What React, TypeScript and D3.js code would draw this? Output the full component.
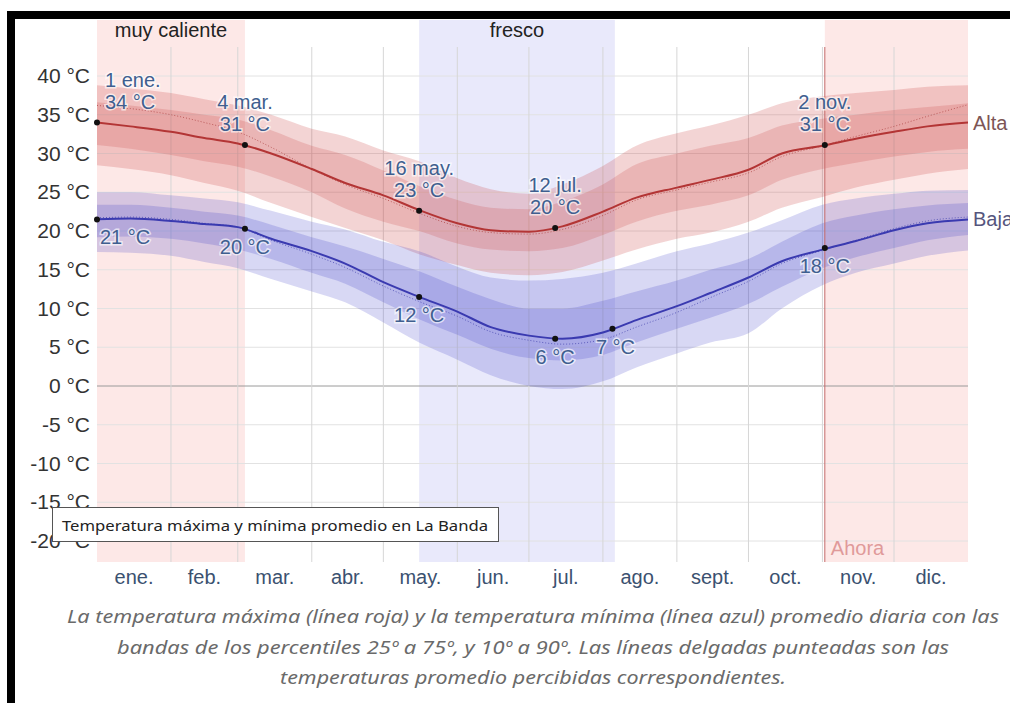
import React from "react";
import * as d3 from "d3";

// sample days (day of year) for the daily series
const days = [0, 14, 31, 45, 59, 73, 90, 104, 120, 135, 151, 165, 181, 195, 212, 226, 243, 257, 273, 287, 304, 318, 334, 348, 365];

// high temperature (°C)
const hiAvg = [34.0, 33.5, 32.8, 32.0, 31.3, 30.0, 28.0, 26.2, 24.6, 22.7, 21.0, 20.1, 19.9, 20.6, 22.5, 24.3, 25.6, 26.6, 27.9, 30.0, 31.0, 31.9, 32.8, 33.5, 34.0];
const hiP25 = [31.1, 30.6, 29.8, 29.0, 28.3, 27.0, 25.0, 22.9, 21.2, 20.0, 18.4, 17.6, 17.4, 17.8, 19.5, 21.2, 22.6, 23.4, 24.6, 26.6, 28.0, 28.8, 29.6, 30.2, 30.6];
const hiP75 = [36.6, 36.2, 35.6, 35.0, 34.4, 33.0, 31.0, 29.8, 27.8, 25.8, 24.0, 23.0, 22.8, 23.8, 26.0, 28.6, 30.0, 31.0, 32.0, 33.6, 34.5, 35.0, 35.6, 36.0, 36.5];
const hiP10 = [28.5, 28.0, 27.2, 26.2, 25.2, 23.6, 21.8, 20.4, 18.8, 17.0, 15.6, 14.6, 14.3, 14.7, 16.2, 17.6, 19.0, 19.8, 21.2, 23.0, 24.4, 25.6, 26.6, 27.4, 28.0];
const hiP90 = [38.8, 38.4, 37.8, 37.0, 36.2, 35.0, 33.2, 32.2, 30.4, 29.0, 26.8, 25.4, 24.8, 26.0, 28.4, 31.0, 32.6, 33.6, 35.0, 36.5, 37.4, 37.8, 38.2, 38.6, 38.8];
const hiFeels = [36.2, 35.8, 35.0, 34.0, 32.8, 30.8, 28.0, 26.0, 24.2, 22.3, 20.6, 19.8, 19.6, 20.2, 22.0, 24.0, 25.3, 26.3, 27.5, 29.6, 31.0, 32.2, 33.5, 34.8, 36.3];

// low temperature (°C)
const loAvg = [21.5, 21.6, 21.3, 20.9, 20.5, 19.0, 17.4, 15.8, 13.4, 11.5, 9.6, 7.6, 6.5, 6.1, 6.9, 8.5, 10.3, 12.0, 14.0, 16.1, 17.6, 18.7, 20.1, 21.0, 21.5];
const loP25 = [19.2, 19.3, 19.0, 18.4, 17.6, 16.4, 14.6, 13.2, 10.8, 8.6, 6.6, 4.8, 3.6, 3.3, 4.0, 5.6, 7.4, 8.8, 10.6, 12.8, 15.2, 16.6, 17.8, 18.8, 19.5];
const loP75 = [23.4, 23.4, 23.0, 22.5, 22.0, 20.8, 19.2, 18.0, 16.4, 14.8, 12.8, 11.2, 10.0, 10.0, 11.0, 12.2, 13.6, 15.0, 16.4, 18.6, 21.0, 22.0, 22.8, 23.3, 23.6];
const loP10 = [17.3, 17.2, 16.8, 16.0, 15.2, 13.8, 12.2, 10.8, 8.2, 5.6, 3.4, 1.4, 0.0, -0.4, 0.6, 2.4, 4.2, 5.6, 6.8, 10.0, 13.0, 14.6, 15.8, 16.8, 17.5];
const loP90 = [25.0, 25.0, 24.6, 24.2, 23.7, 22.6, 21.2, 20.2, 18.6, 17.4, 15.4, 14.0, 13.6, 13.8, 14.6, 15.8, 17.4, 18.4, 19.8, 21.4, 23.4, 24.2, 24.8, 25.2, 25.3];
const loFeels = [21.7, 21.8, 21.5, 21.0, 20.5, 18.8, 17.0, 15.3, 12.9, 10.9, 9.0, 7.0, 5.9, 5.4, 6.0, 7.6, 9.5, 11.4, 13.5, 15.8, 17.5, 18.8, 20.3, 21.3, 21.8];

const monthNames = ["ene.", "feb.", "mar.", "abr.", "may.", "jun.", "jul.", "ago.", "sept.", "oct.", "nov.", "dic."];
const monthStarts = [0, 31, 59, 90, 120, 151, 181, 212, 243, 273, 304, 334, 365];
const yTicks = [40, 35, 30, 25, 20, 15, 10, 5, 0, -5, -10, -15, -20];

// annotated points
const hiNoteDays = [0, 62, 135, 192, 305];
const hiNoteDates = ["1 ene.", "4 mar.", "16 may.", "12 jul.", "2 nov."];
const hiNoteValues = [34.0, 31.1, 22.6, 20.4, 31.1];
const hiNoteLabels = ["34 °C", "31 °C", "23 °C", "20 °C", "31 °C"];
const loNoteDays = [0, 62, 135, 192, 216, 305];
const loNoteValues = [21.5, 20.3, 11.5, 6.1, 7.4, 17.8];
const loNoteLabels = ["21 °C", "20 °C", "12 °C", "6 °C", "7 °C", "18 °C"];

// seasons
const hotSpans = [[0, 62], [305, 365]];
const coolSpans = [[135, 217]];
const nowDay = 305;

const W = 1010;
const H = 703;
const plotTop = 20;
const gridTop = 47;
const plotBottom = 562;
const font = "'Liberation Sans', Arial, sans-serif";

const x = d3.scaleLinear().domain([0, 365]).range([97, 968]);
const y = d3.scaleLinear().domain([-20, 40]).range([541, 76]);

const band = (lo: number[], hi: number[]) =>
  d3
    .area<number>()
    .x((_, i) => x(days[i]))
    .y0((_, i) => y(lo[i]))
    .y1((_, i) => y(hi[i]))
    .curve(d3.curveMonotoneX)(days) as string;

const line = (vals: number[]) =>
  d3
    .line<number>()
    .x((_, i) => x(days[i]))
    .y((_, i) => y(vals[i]))
    .curve(d3.curveMonotoneX)(days) as string;

const noteColor = "#3f5f8f";
const halo = { stroke: "rgba(255,255,255,0.65)", strokeWidth: 3, paintOrder: "stroke" as const };

export default function App() {
  return (
    <svg width={W} height={H} style={{ position: "absolute", left: 0, top: 0, background: "#fff" }}>
      {/* season shading */}
      {hotSpans.map(([a, b], i) => (
        <rect key={"h" + i} x={x(a)} y={plotTop} width={x(b) - x(a)} height={plotBottom - plotTop} fill="#fde8e7" />
      ))}
      {coolSpans.map(([a, b], i) => (
        <rect key={"c" + i} x={x(a)} y={plotTop} width={x(b) - x(a)} height={plotBottom - plotTop} fill="#e9e9fb" />
      ))}
      <text x={(x(hotSpans[0][0]) + x(hotSpans[0][1])) / 2} y={37} textAnchor="middle" fontFamily={font} fontSize={20} fill="#222">
        muy caliente
      </text>
      <text x={(x(coolSpans[0][0]) + x(coolSpans[0][1])) / 2} y={37} textAnchor="middle" fontFamily={font} fontSize={20} fill="#222">
        fresco
      </text>

      {/* grid */}
      {yTicks.map((t) => (
        <line key={t} x1={x(0)} x2={x(365)} y1={y(t)} y2={y(t)} stroke={t === 0 ? "#9a9a9a" : "#e2e2e2"} strokeWidth={1} />
      ))}
      {monthStarts.slice(1, -1).map((d) => (
        <line key={d} x1={x(d)} x2={x(d)} y1={gridTop} y2={plotBottom} stroke="#d6d6d6" strokeWidth={1} />
      ))}

      {/* bands */}
      <path d={band(hiP10, hiP90)} fill="rgba(200,60,60,0.22)" />
      <path d={band(hiP25, hiP75)} fill="rgba(200,60,60,0.2)" />
      <path d={band(loP10, loP90)} fill="rgba(60,60,200,0.2)" />
      <path d={band(loP25, loP75)} fill="rgba(60,60,200,0.21)" />

      {/* feels-like dotted */}
      <path d={line(hiFeels)} fill="none" stroke="#b04848" strokeWidth={1} strokeDasharray="1,2" opacity={0.8} />
      <path d={line(loFeels)} fill="none" stroke="#4848b0" strokeWidth={1} strokeDasharray="1,2" opacity={0.8} />

      {/* lines */}
      <path d={line(hiAvg)} fill="none" stroke="#b33535" strokeWidth={2} />
      <path d={line(loAvg)} fill="none" stroke="#3a3ab0" strokeWidth={2} />

      {/* now */}
      <line x1={x(nowDay)} x2={x(nowDay)} y1={gridTop} y2={plotBottom} stroke="#c46a6a" strokeWidth={1} />
      <text x={x(nowDay) + 6} y={555} fontFamily={font} fontSize={20} fill="#e09a9a">
        Ahora
      </text>

      {/* y axis */}
      {yTicks.map((t) => (
        <text key={t} x={90} y={y(t) + 7} textAnchor="end" fontFamily={font} fontSize={21} fill="#333">
          {`${t} °C`}
        </text>
      ))}

      {/* x axis */}
      {monthNames.map((m, i) => (
        <text
          key={m}
          x={x((monthStarts[i] + monthStarts[i + 1]) / 2)}
          y={584}
          textAnchor="middle"
          fontFamily={font}
          fontSize={20}
          fill="#3b5170"
        >
          {m}
        </text>
      ))}

      {/* high annotations */}
      {hiNoteDays.map((d, i) => {
        const cx = x(d);
        const cy = y(hiNoteValues[i]);
        const anchor = i === 0 ? "start" : "middle";
        const tx = i === 0 ? cx + 8 : cx;
        return (
          <g key={"hn" + d}>
            <text x={tx} y={cy - 36} textAnchor={anchor} fontFamily={font} fontSize={20} fill={noteColor} {...halo}>
              {hiNoteDates[i]}
            </text>
            <text x={tx} y={cy - 14} textAnchor={anchor} fontFamily={font} fontSize={20} fill={noteColor} {...halo}>
              {hiNoteLabels[i]}
            </text>
            <circle cx={cx} cy={cy} r={3} fill="#111" />
          </g>
        );
      })}

      {/* low annotations */}
      {loNoteDays.map((d, i) => {
        const cx = x(d);
        const cy = y(loNoteValues[i]);
        const anchor = i === 0 ? "start" : "middle";
        const tx = i === 0 ? cx + 3 : d === 216 ? cx + 3 : cx;
        return (
          <g key={"ln" + d}>
            <text x={tx} y={cy + 25} textAnchor={anchor} fontFamily={font} fontSize={20} fill={noteColor} {...halo}>
              {loNoteLabels[i]}
            </text>
            <circle cx={cx} cy={cy} r={3} fill="#111" />
          </g>
        );
      })}

      {/* series names */}
      <text x={973} y={y(hiAvg[hiAvg.length - 1]) + 7} fontFamily={font} fontSize={20} fill="#7d5555">
        Alta
      </text>
      <text x={973} y={y(loAvg[loAvg.length - 1]) + 7} fontFamily={font} fontSize={20} fill="#55557d">
        Baja
      </text>

      {/* tooltip */}
      <rect x={52.5} y={507.5} width={446} height={34} fill="#fff" stroke="#555" strokeWidth={1} />
      <text x={62} y={531} fontFamily="'Noto Sans', 'Open Sans', sans-serif" fontSize={15} fill="#222" textLength={426} lengthAdjust="spacingAndGlyphs">
        Temperatura máxima y mínima promedio en La Banda
      </text>

      {/* caption */}
      <g fontFamily="'Noto Sans', 'Open Sans', sans-serif" fontStyle="italic" fontSize={18} fill="#6a6a6a" textAnchor="middle">
        <text x={533} y={623} textLength={932} lengthAdjust="spacingAndGlyphs">
          La temperatura máxima (línea roja) y la temperatura mínima (línea azul) promedio diaria con las
        </text>
        <text x={533} y={654} textLength={832} lengthAdjust="spacingAndGlyphs">
          bandas de los percentiles 25º a 75º, y 10º a 90º. Las líneas delgadas punteadas son las
        </text>
        <text x={533} y={684} textLength={506} lengthAdjust="spacingAndGlyphs">
          temperaturas promedio percibidas correspondientes.
        </text>
      </g>

      {/* black frame */}
      <rect x={7} y={11} width={W - 7} height={8} fill="#000" />
      <rect x={7} y={11} width={8} height={H - 11} fill="#000" />
    </svg>
  );
}
